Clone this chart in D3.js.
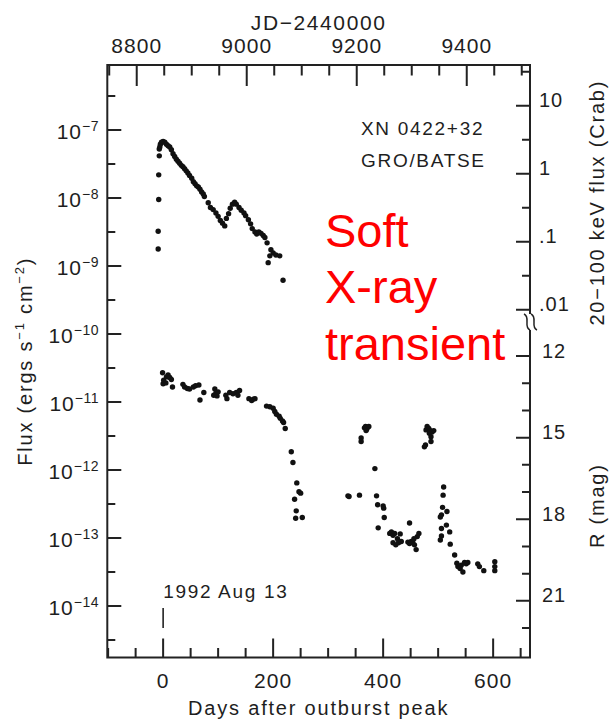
<!DOCTYPE html>
<html><head><meta charset="utf-8">
<script src="https://cdn.jsdelivr.net/npm/d3@7"></script>
<style>body{margin:0;background:#fff}svg{display:block}</style>
</head><body><svg id="c" width="609" height="721"></svg>
<script>
// ---------- data ----------
const xrayDays = [-9,-9,-8,-8,-7,-7,-6,-5,-3,0,3,6,9,12,15,18,21,24,27,30,33,36,39,42,45,48,52,55,58,61,64,67,70,73,75,82,86,91,96,100,104,108,112,115,119,122,126,130,133,138,142,147,150,155,159,162,167,170,174,178,182,185,189,191,194,196,200,205,212,218];
const xrayFlux = [1.78e-9,3.24e-9,9.5e-9,2.19e-8,4.17e-8,5.25e-8,5.62e-8,6.17e-8,6.61e-8,6.76e-8,6.61e-8,6.17e-8,5.89e-8,5.62e-8,5.13e-8,4.47e-8,4.07e-8,3.72e-8,3.47e-8,3.24e-8,3.02e-8,2.88e-8,2.69e-8,2.51e-8,2.34e-8,2.14e-8,1.95e-8,1.74e-8,1.62e-8,1.51e-8,1.45e-8,1.35e-8,1.23e-8,1.15e-8,1.05e-8,8.51e-9,7.24e-9,6.76e-9,6.03e-9,5.37e-9,4.68e-9,4.27e-9,3.89e-9,5.01e-9,5.89e-9,7.08e-9,8.13e-9,8.71e-9,8.13e-9,7.24e-9,6.61e-9,6.03e-9,5.50e-9,4.79e-9,4.17e-9,3.55e-9,3.16e-9,2.95e-9,3.16e-9,3.02e-9,2.82e-9,2.63e-9,2.19e-9,1.12e-9,1.41e-9,1.74e-9,1.55e-9,1.45e-9,1.41e-9,6.17e-10];

const optDays = [-1,0,1,5,6,9,12,15,17,36,39,44,48,55,59,65,67,74,92,94,96,98,100,114,116,121,127,133,136,139,156,161,164,167,188,194,200,203,206,211,213,217,219,222,233,236,239,241,242,243,247,250,253,
 336,338,357,360,360,366,368,370,372,374,369,385,388,390,400,401,402,391,412,415,418,421,418,423,428,431,426,433,448,445,448,451,454,457,460,462,456,465,
 475,477,478,480,483,486,489,492,487,487,484,510,509,508,516,506,504,515,506,506,521,504,522,530,534,536,540,545,542,548,554,551,572,575,583,603,603,603];
const optFlux = [2.69e-11,1.86e-11,2.09e-11,1.91e-11,2.34e-11,2.51e-11,2.29e-11,2.14e-11,1.66e-11,1.82e-11,1.66e-11,1.58e-11,1.55e-11,1.66e-11,1.74e-11,1.78e-11,1.07e-11,1.38e-11,1.26e-11,1.55e-11,1.35e-11,1.23e-11,1.41e-11,1.26e-11,1.12e-11,1.38e-11,1.32e-11,1.38e-11,1.26e-11,1.48e-11,1.12e-11,1.05e-11,1.10e-11,1.12e-11,8.71e-12,8.51e-12,8.13e-12,7.24e-12,6.61e-12,6.17e-12,5.75e-12,5.25e-12,5.01e-12,4.07e-12,1.86e-12,1.29e-12,3.72e-13,1.95e-13,2.51e-13,6.46e-13,4.79e-13,4.57e-13,2.00e-13,
 4.17e-13,4.07e-13,4.27e-13,2.95e-12,2.63e-12,4.17e-12,4.37e-12,3.98e-12,4.27e-12,4.37e-12,3.80e-12,1.05e-12,4.17e-13,3.09e-13,2.95e-13,2.75e-13,2.00e-13,1.41e-13,1.17e-13,1.23e-13,1.10e-13,1.17e-13,8.51e-14,7.94e-14,8.51e-14,1.15e-13,9.77e-14,8.91e-14,1.66e-13,8.71e-14,8.32e-14,8.91e-14,8.51e-14,7.94e-14,6.76e-14,1.05e-13,9.77e-14,1.17e-13,
 2.19e-12,2.34e-12,3.89e-12,4.37e-12,4.07e-12,3.80e-12,3.63e-12,3.80e-12,3.09e-12,2.63e-12,3.47e-12,5.62e-13,4.27e-13,2.82e-13,2.45e-13,2.19e-13,2.04e-13,1.55e-13,1.38e-13,1.07e-13,1.23e-13,9.33e-14,8.13e-14,5.62e-14,4.27e-14,3.80e-14,3.55e-14,3.16e-14,3.98e-14,4.37e-14,4.37e-14,4.17e-14,4.17e-14,3.80e-14,3.31e-14,4.47e-14,3.80e-14,3.31e-14];

const dayTicks = [0, 200, 400, 600];
const jdTicks = [8800, 9000, 9200, 9400];
const fluxExponents = [-7, -8, -9, -10, -11, -12, -13, -14];
const crabTicks = [10, 1, 0.1, 0.01];
const crabLabels = ["10", "1", ".1", ".01"];
const magTicks = [12, 15, 18, 21];
const JD0 = 8848;               // JD-2440000 of 1992 Aug 13
const CRAB = 2.28e-8;           // erg s^-1 cm^-2 per Crab (20-100 keV)
const FLUX_R12 = 4.74e-11;      // flux equivalent of R = 12

// ---------- layout ----------
const L = 107.3, R = 530, T = 65, B = 657.5;
const svg = d3.select("#c");
const ink = "#1e1e1e";
const FONT = "'Liberation Sans', Arial, sans-serif";

const x = d3.scaleLinear().domain([-101.5, 667]).range([L, R]);
const xJD = d3.scaleLinear().domain(x.domain().map(d => d + JD0)).range([L, R]);
const y = d3.scaleLog().domain([Math.pow(10, -6.044), Math.pow(10, -14.757)]).range([T, B]);
const yCrab = d3.scaleLog().domain(y.domain().map(f => f / CRAB)).range([T, B]);
const yMag = d3.scaleLinear().domain(y.domain().map(f => 12 - 2.5 * Math.log10(f / FLUX_R12))).range([T, B]);

// ---------- ticks (all pointing inward) ----------
const tickPath = [];
function hTicks(vals, sc, x0, len) { vals.forEach(v => tickPath.push(`M${x0},${sc(v)}h${len}`)); }
function vTicks(vals, sc, y0, len) { vals.forEach(v => tickPath.push(`M${sc(v)},${y0}v${len}`)); }
vTicks(dayTicks, x, B, -19);
vTicks(d3.range(-100, 651, 50).filter(v => !dayTicks.includes(v)), x, B, -9.5);
vTicks(jdTicks, xJD, T, 21);
vTicks(d3.range(8750, 9501, 50).filter(v => !jdTicks.includes(v)), xJD, T, 10.5);
hTicks(fluxExponents.map(e => Math.pow(10, e)), y, L, 14);
hTicks(d3.range(-6.5, -15, -1).map(e => Math.pow(10, e)), y, L, 8);
hTicks(crabTicks, yCrab, R, -14);
hTicks([31.6, 3.16, 0.316, 0.0316], yCrab, R, -8);
hTicks(magTicks, yMag, R, -14);
hTicks(d3.range(12, 23).filter(v => !magTicks.includes(v)), yMag, R, -8);
svg.append("path").attr("d", tickPath.join("")).attr("fill", "none")
  .attr("stroke", "#222").attr("stroke-width", 2);

// frame (right side broken)
const brk = yCrab(0.0066);
svg.append("path").attr("fill", "none").attr("stroke", "#222").attr("stroke-width", 2)
  .attr("d", `M${R},${brk - 8}V${T}H${L}V${B}H${R}V${brk + 8}`);
const sq = (cx, cy) => `M${cx - 3},${cy - 8} C${cx + 4},${cy - 5} ${cx - 4},${cy + 5} ${cx + 3},${cy + 8}`;
svg.append("path").attr("fill", "none").attr("stroke", "#222").attr("stroke-width", 1.5)
  .attr("d", sq(R - 3, brk) + sq(R + 4, brk));

// ---------- tick labels ----------
const tickTxt = (sel) => sel.attr("font-family", FONT).attr("font-size", 21).attr("fill", ink).attr("letter-spacing", 1);
svg.append("g").selectAll("text").data(dayTicks).join("text").call(tickTxt)
  .attr("x", d => x(d)).attr("y", 688).attr("text-anchor", "middle").text(d => d);
svg.append("g").selectAll("text").data(jdTicks).join("text").call(tickTxt)
  .attr("x", d => xJD(d)).attr("y", 53).attr("text-anchor", "middle").text(d => d);

const lt = svg.append("g").selectAll("text").data(fluxExponents).join("text").call(tickTxt)
  .attr("x", 99).attr("y", d => y(Math.pow(10, d)) + 8.5).attr("text-anchor", "end");
lt.append("tspan").text("10");
lt.append("tspan").attr("font-size", 14).attr("dy", -8).attr("letter-spacing", 0.5).text(d => "\u2212" + (-d));

svg.append("g").selectAll("text").data(crabTicks).join("text").call(tickTxt)
  .attr("font-size", 20).attr("x", 539).attr("y", d => yCrab(d) + 1.5).text((d, i) => crabLabels[i]);
svg.append("g").selectAll("text").data(magTicks).join("text").call(tickTxt)
  .attr("font-size", 20).attr("x", 542).attr("y", d => yMag(d) + 1.5).text(d => d);

// ---------- axis titles ----------
const title = (sel) => sel.attr("font-family", FONT).attr("font-size", 20).attr("fill", ink).attr("letter-spacing", 1.8);
svg.append("text").call(title).attr("x", (L + R) / 2).attr("y", 715).attr("text-anchor", "middle").text("Days after outburst peak");
svg.append("text").call(title).attr("font-size", 21).attr("letter-spacing", 1.6).attr("x", (L + R) / 2).attr("y", 30).attr("text-anchor", "middle").text("JD\u22122440000");

const yt = svg.append("text").call(title).attr("text-anchor", "middle")
  .attr("transform", `translate(32,${(T + B) / 2}) rotate(-90)`);
yt.append("tspan").text("Flux (ergs s");
yt.append("tspan").attr("font-size", 13).attr("dy", -8).text("\u22121");
yt.append("tspan").attr("dy", 8).text(" cm");
yt.append("tspan").attr("font-size", 13).attr("dy", -8).text("\u22122");
yt.append("tspan").attr("dy", 8).text(")");

svg.append("text").call(title).attr("text-anchor", "middle")
  .attr("transform", `translate(604,${(yCrab(31.6) + yCrab(0.01)) / 2 + 12}) rotate(-90)`).text("20\u2212100 keV flux (Crab)");
svg.append("text").call(title).attr("text-anchor", "middle")
  .attr("transform", `translate(604,${yMag(17.5)}) rotate(-90)`).text("R (mag)");

// ---------- annotations ----------
const ann = (sel) => sel.attr("font-family", FONT).attr("font-size", 19).attr("fill", ink).attr("letter-spacing", 1.7);
svg.append("text").call(ann).attr("x", 361).attr("y", 135).text("XN 0422+32");
svg.append("text").call(ann).attr("x", 361).attr("y", 167).text("GRO/BATSE");
svg.append("text").call(ann).attr("x", x(0)).attr("y", 598).text("1992 Aug 13");
svg.append("line").attr("x1", x(0)).attr("x2", x(0)).attr("y1", 608).attr("y2", 628)
  .attr("stroke", "#222").attr("stroke-width", 1.6);

const red = svg.append("text").attr("font-family", FONT).attr("font-size", 47).attr("fill", "#ff0000");
["Soft", "X-ray", "transient"].forEach((t, i) => red.append("tspan").attr("x", 325).attr("y", 246.5 + i * 56.8).text(t));

// ---------- data points ----------
svg.append("g").selectAll("circle").data(xrayDays).join("circle")
  .attr("cx", d => x(d)).attr("cy", (d, i) => y(xrayFlux[i])).attr("r", 2.7).attr("fill", "#111");
svg.append("g").selectAll("circle").data(optDays).join("circle")
  .attr("cx", d => x(d)).attr("cy", (d, i) => y(optFlux[i])).attr("r", 2.7).attr("fill", "#111");
</script></body></html>
